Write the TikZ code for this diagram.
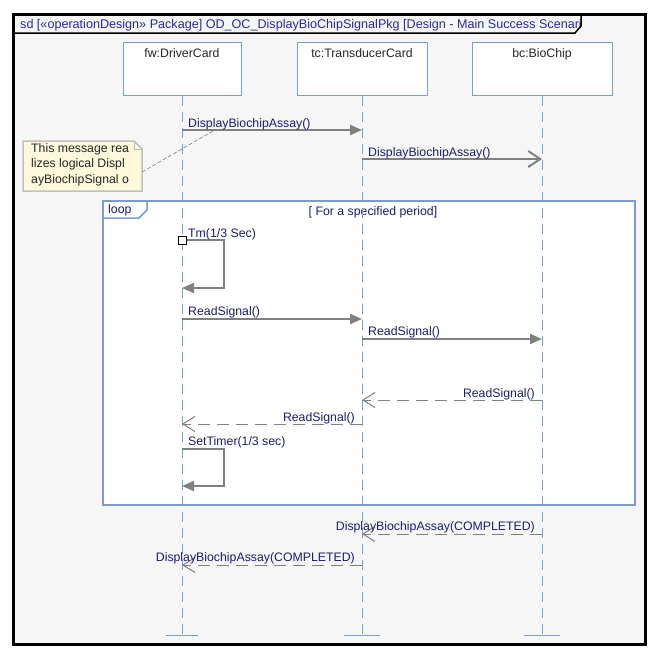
\documentclass[tikz,border=0pt]{standalone}
\usepackage{fontspec}
\setmainfont{Liberation Sans}
\usetikzlibrary{arrows.meta}

\definecolor{lineblue}{RGB}{122,158,204}
\definecolor{navy}{RGB}{28,28,112}
\definecolor{titleblue}{RGB}{40,40,160}
\definecolor{msggray}{RGB}{128,128,128}
\definecolor{notebg}{RGB}{255,248,218}
\definecolor{notegray}{RGB}{192,192,192}
\definecolor{paper}{RGB}{246,246,246}

\begin{document}
\begin{tikzpicture}[x=1pt, y=-1pt,
    font=\fontsize{12.3}{15.5}\selectfont,
    head/.style={draw=lineblue, fill=white, line width=1pt, minimum width=#1, minimum height=53pt, inner sep=0pt},
    lifeline/.style={draw=lineblue, line width=1pt, dash pattern=on 10pt off 6pt},
    call/.style={draw=msggray, line width=2pt, -{Triangle[length=12pt,width=10pt]}},
    async/.style={draw=msggray, line width=2pt, -{Straight Barb[length=12pt,width=16pt]}},
    reply/.style={draw=msggray, line width=1pt, dash pattern=on 12pt off 7pt, -{Straight Barb[length=12pt,width=15pt]}},
    msg/.style={text=navy, inner sep=0pt}]
    \useasboundingbox (0,0) rectangle (657,657);
    \fill[white] (0,0) rectangle (657,657);
    \draw[line width=3pt, fill=paper] (13,14) rectangle (645,644);

    % frame title
    \begin{scope}
        \clip (13,14) rectangle (580,33);
        \node[anchor=base west, text=titleblue, inner sep=0pt, font=\fontsize{12.6}{15}\selectfont] (title) at (20,28) {sd [«operationDesign» Package] OD\_OC\_DisplayBioChipSignalPkg [Design - Main Success Scenario]};
    \end{scope}
    \draw[line width=1.5pt] (13,33) -- (575,33) -- (581,26) -- (581,14);

    % loop fragment
    \draw[lineblue, line width=1.5pt, fill=white] (103,201) rectangle (635,505);
    \draw[lineblue, line width=1.5pt] (103,218) -- (139,218) -- (147,210) -- (147,201);
    \node[msg, anchor=base west] (looptag) at (108,213) {loop};
    \node[msg, anchor=base] (guard) at (373,215) {[ For a specified period]};

    % lifelines
    \node[head=118pt] (fw) at (182,68.5) {};
    \node[head=130pt] (tc) at (362,68.5) {};
    \node[head=140pt] (bc) at (542,68.5) {};
    \node[anchor=base, text=black!85] (fwname) at (182,57) {fw:DriverCard};
    \node[anchor=base, text=black!85] (tcname) at (362,57) {tc:TransducerCard};
    \node[anchor=base, text=black!85] (bcname) at (542,57) {bc:BioChip};
    \coordinate (fwend) at (182,635);
    \coordinate (tcend) at (362,635);
    \coordinate (bcend) at (542,635);
    \draw[lifeline] (fw.south) -- (fwend);
    \draw[lifeline] (tc.south) -- (tcend);
    \draw[lifeline] (bc.south) -- (bcend);
    \draw[lineblue, line width=1pt] ([xshift=-16pt]fwend) -- ([xshift=16pt]fwend);
    \draw[lineblue, line width=1pt] ([xshift=-18pt]tcend) -- ([xshift=18pt]tcend);
    \draw[lineblue, line width=1pt] ([xshift=-18pt]bcend) -- ([xshift=18pt]bcend);

    % note
    \draw[notegray, line width=1.5pt, fill=notebg] (23,141) -- (134,141) -- (142,149) -- (142,191) -- (23,191) -- cycle;
    \draw[notegray, line width=1pt] (134,141) -- (134,149) -- (142,149);
    \node[anchor=north west, align=left, inner sep=0pt, text=black!85] (note) at (31,143) {This message rea\\lizes logical Displ\\ayBiochipSignal o};

    % messages
    \coordinate (m1s) at (182,130); \coordinate (m1e) at (362,130);
    \draw[call] (m1s) -- (m1e);
    \node[msg, anchor=base west] (m1) at (188,127) {DisplayBiochipAssay()};
    \coordinate (notept) at (142,172); \coordinate (m1pt) at (213,131);
    \draw[msggray, line width=0.6pt, dash pattern=on 4pt off 2pt] (notept) -- (m1pt);

    \coordinate (m2s) at (362,159); \coordinate (m2e) at (542,159);
    \draw[async] (m2s) -- (m2e);
    \node[msg, anchor=base west] (m2) at (368,156) {DisplayBiochipAssay()};

    \draw[call] (186,240) -- (224,240) -- (224,288) -- (182,288);
    \node[draw, fill=white, line width=1pt, minimum size=8pt, inner sep=0pt] (tm) at (182,240) {};
    \node[msg, anchor=base west] (m3) at (188,237) {Tm(1/3 Sec)};

    \coordinate (m4s) at (182,319); \coordinate (m4e) at (362,319);
    \draw[call] (m4s) -- (m4e);
    \node[msg, anchor=base west] (m4) at (188,315) {ReadSignal()};

    \coordinate (m5s) at (362,339); \coordinate (m5e) at (542,339);
    \draw[call] (m5s) -- (m5e);
    \node[msg, anchor=base west] (m5) at (368,335) {ReadSignal()};

    \coordinate (m6s) at (542,400); \coordinate (m6e) at (362,400);
    \draw[reply] (m6s) -- (m6e);
    \node[msg, anchor=base east] (m6) at (535,397) {ReadSignal()};

    \coordinate (m7s) at (362,424); \coordinate (m7e) at (182,424);
    \draw[reply] (m7s) -- (m7e);
    \node[msg, anchor=base east] (m7) at (355,421) {ReadSignal()};

    \coordinate (m8s) at (182,449); \coordinate (m8e) at (182,486);
    \draw[call] (m8s) -- (224,449) -- (224,486) -- (m8e);
    \node[msg, anchor=base west] (m8) at (188,445) {SetTimer(1/3 sec)};

    \coordinate (m9s) at (542,534); \coordinate (m9e) at (362,534);
    \draw[reply] (m9s) -- (m9e);
    \node[msg, anchor=base east] (m9) at (535,530) {DisplayBiochipAssay(COMPLETED)};

    \coordinate (m10s) at (362,565); \coordinate (m10e) at (182,565);
    \draw[reply] (m10s) -- (m10e);
    \node[msg, anchor=base east] (m10) at (355,561) {DisplayBiochipAssay(COMPLETED)};
\end{tikzpicture}
\end{document}
